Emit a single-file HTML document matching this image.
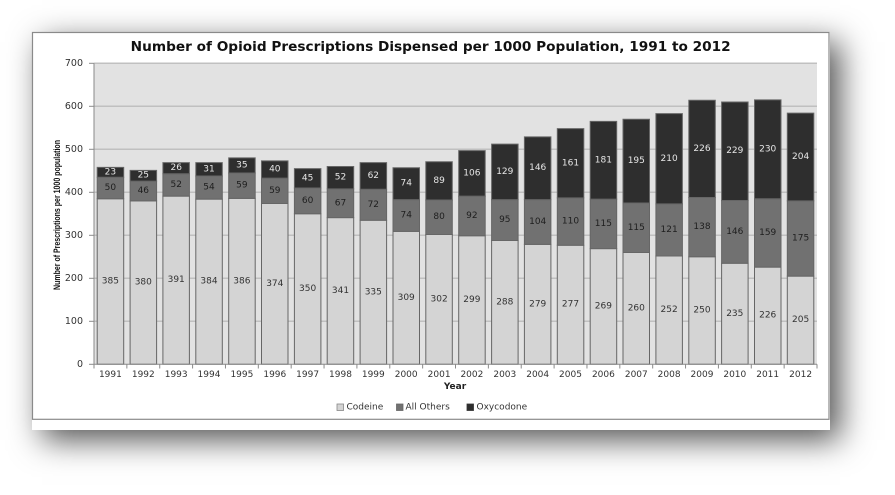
<!DOCTYPE html>
<html>
<head>
<meta charset="utf-8">
<style>
  html,body{margin:0;padding:0;background:#fff;}
  body{width:895px;height:495px;position:relative;overflow:hidden;}
  #frame{position:absolute;left:32px;top:32px;width:798px;height:398px;background:#fff;
    box-shadow:10px 10px 30px 0px rgba(0,0,0,0.68);}
  svg{position:absolute;left:0;top:0;}
  text{font-family:"DejaVu Sans","Liberation Sans",sans-serif;}
</style>
</head>
<body>
<div id="frame"></div>
<svg width="895" height="495" viewBox="0 0 895 495" xmlns="http://www.w3.org/2000/svg">
  <rect x="32.5" y="32.5" width="796.5" height="386.8" fill="none" stroke="#8a8a8a" stroke-width="1.2"/>

  <text x="430.7" y="51" text-anchor="middle" font-size="13" font-weight="bold" fill="#111" textLength="600" lengthAdjust="spacingAndGlyphs">Number of Opioid Prescriptions Dispensed per 1000 Population, 1991 to 2012</text>

  <rect x="94" y="63.3" width="723" height="301" fill="#e2e2e2"/>
  <g stroke="#c0c0c0" stroke-width="1.5">
    <line x1="94" y1="63.3" x2="817" y2="63.3"/>
    <line x1="94" y1="106.3" x2="817" y2="106.3"/>
    <line x1="94" y1="149.3" x2="817" y2="149.3"/>
    <line x1="94" y1="192.3" x2="817" y2="192.3"/>
    <line x1="94" y1="235.3" x2="817" y2="235.3"/>
    <line x1="94" y1="278.3" x2="817" y2="278.3"/>
    <line x1="94" y1="321.3" x2="817" y2="321.3"/>
  </g>

  <g transform="translate(0,364.3) scale(1,-0.43)" stroke="#666" stroke-width="1">
    <g fill="#d4d4d4">
      <rect vector-effect="non-scaling-stroke" x="97.2" y="0" width="26.5" height="385"/>
      <rect vector-effect="non-scaling-stroke" x="130.1" y="0" width="26.5" height="380"/>
      <rect vector-effect="non-scaling-stroke" x="162.9" y="0" width="26.5" height="391"/>
      <rect vector-effect="non-scaling-stroke" x="195.8" y="0" width="26.5" height="384"/>
      <rect vector-effect="non-scaling-stroke" x="228.7" y="0" width="26.5" height="386"/>
      <rect vector-effect="non-scaling-stroke" x="261.5" y="0" width="26.5" height="374"/>
      <rect vector-effect="non-scaling-stroke" x="294.4" y="0" width="26.5" height="350"/>
      <rect vector-effect="non-scaling-stroke" x="327.2" y="0" width="26.5" height="341"/>
      <rect vector-effect="non-scaling-stroke" x="360.1" y="0" width="26.5" height="335"/>
      <rect vector-effect="non-scaling-stroke" x="393.0" y="0" width="26.5" height="309"/>
      <rect vector-effect="non-scaling-stroke" x="425.8" y="0" width="26.5" height="302"/>
      <rect vector-effect="non-scaling-stroke" x="458.7" y="0" width="26.5" height="299"/>
      <rect vector-effect="non-scaling-stroke" x="491.6" y="0" width="26.5" height="288"/>
      <rect vector-effect="non-scaling-stroke" x="524.4" y="0" width="26.5" height="279"/>
      <rect vector-effect="non-scaling-stroke" x="557.3" y="0" width="26.5" height="277"/>
      <rect vector-effect="non-scaling-stroke" x="590.2" y="0" width="26.5" height="269"/>
      <rect vector-effect="non-scaling-stroke" x="623.0" y="0" width="26.5" height="260"/>
      <rect vector-effect="non-scaling-stroke" x="655.9" y="0" width="26.5" height="252"/>
      <rect vector-effect="non-scaling-stroke" x="688.8" y="0" width="26.5" height="250"/>
      <rect vector-effect="non-scaling-stroke" x="721.6" y="0" width="26.5" height="235"/>
      <rect vector-effect="non-scaling-stroke" x="754.5" y="0" width="26.5" height="226"/>
      <rect vector-effect="non-scaling-stroke" x="787.3" y="0" width="26.5" height="205"/>
    </g>
    <g fill="#717171">
      <rect vector-effect="non-scaling-stroke" x="97.2" y="385" width="26.5" height="50"/>
      <rect vector-effect="non-scaling-stroke" x="130.1" y="380" width="26.5" height="46"/>
      <rect vector-effect="non-scaling-stroke" x="162.9" y="391" width="26.5" height="52"/>
      <rect vector-effect="non-scaling-stroke" x="195.8" y="384" width="26.5" height="54"/>
      <rect vector-effect="non-scaling-stroke" x="228.7" y="386" width="26.5" height="59"/>
      <rect vector-effect="non-scaling-stroke" x="261.5" y="374" width="26.5" height="59"/>
      <rect vector-effect="non-scaling-stroke" x="294.4" y="350" width="26.5" height="60"/>
      <rect vector-effect="non-scaling-stroke" x="327.2" y="341" width="26.5" height="67"/>
      <rect vector-effect="non-scaling-stroke" x="360.1" y="335" width="26.5" height="72"/>
      <rect vector-effect="non-scaling-stroke" x="393.0" y="309" width="26.5" height="74"/>
      <rect vector-effect="non-scaling-stroke" x="425.8" y="302" width="26.5" height="80"/>
      <rect vector-effect="non-scaling-stroke" x="458.7" y="299" width="26.5" height="92"/>
      <rect vector-effect="non-scaling-stroke" x="491.6" y="288" width="26.5" height="95"/>
      <rect vector-effect="non-scaling-stroke" x="524.4" y="279" width="26.5" height="104"/>
      <rect vector-effect="non-scaling-stroke" x="557.3" y="277" width="26.5" height="110"/>
      <rect vector-effect="non-scaling-stroke" x="590.2" y="269" width="26.5" height="115"/>
      <rect vector-effect="non-scaling-stroke" x="623.0" y="260" width="26.5" height="115"/>
      <rect vector-effect="non-scaling-stroke" x="655.9" y="252" width="26.5" height="121"/>
      <rect vector-effect="non-scaling-stroke" x="688.8" y="250" width="26.5" height="138"/>
      <rect vector-effect="non-scaling-stroke" x="721.6" y="235" width="26.5" height="146"/>
      <rect vector-effect="non-scaling-stroke" x="754.5" y="226" width="26.5" height="159"/>
      <rect vector-effect="non-scaling-stroke" x="787.3" y="205" width="26.5" height="175"/>
    </g>
    <g fill="#2e2e2e">
      <rect vector-effect="non-scaling-stroke" x="97.2" y="435" width="26.5" height="23"/>
      <rect vector-effect="non-scaling-stroke" x="130.1" y="426" width="26.5" height="25"/>
      <rect vector-effect="non-scaling-stroke" x="162.9" y="443" width="26.5" height="26"/>
      <rect vector-effect="non-scaling-stroke" x="195.8" y="438" width="26.5" height="31"/>
      <rect vector-effect="non-scaling-stroke" x="228.7" y="445" width="26.5" height="35"/>
      <rect vector-effect="non-scaling-stroke" x="261.5" y="433" width="26.5" height="40"/>
      <rect vector-effect="non-scaling-stroke" x="294.4" y="410" width="26.5" height="45"/>
      <rect vector-effect="non-scaling-stroke" x="327.2" y="408" width="26.5" height="52"/>
      <rect vector-effect="non-scaling-stroke" x="360.1" y="407" width="26.5" height="62"/>
      <rect vector-effect="non-scaling-stroke" x="393.0" y="383" width="26.5" height="74"/>
      <rect vector-effect="non-scaling-stroke" x="425.8" y="382" width="26.5" height="89"/>
      <rect vector-effect="non-scaling-stroke" x="458.7" y="391" width="26.5" height="106"/>
      <rect vector-effect="non-scaling-stroke" x="491.6" y="383" width="26.5" height="129"/>
      <rect vector-effect="non-scaling-stroke" x="524.4" y="383" width="26.5" height="146"/>
      <rect vector-effect="non-scaling-stroke" x="557.3" y="387" width="26.5" height="161"/>
      <rect vector-effect="non-scaling-stroke" x="590.2" y="384" width="26.5" height="181"/>
      <rect vector-effect="non-scaling-stroke" x="623.0" y="375" width="26.5" height="195"/>
      <rect vector-effect="non-scaling-stroke" x="655.9" y="373" width="26.5" height="210"/>
      <rect vector-effect="non-scaling-stroke" x="688.8" y="388" width="26.5" height="226"/>
      <rect vector-effect="non-scaling-stroke" x="721.6" y="381" width="26.5" height="229"/>
      <rect vector-effect="non-scaling-stroke" x="754.5" y="385" width="26.5" height="230"/>
      <rect vector-effect="non-scaling-stroke" x="787.3" y="380" width="26.5" height="204"/>
    </g>
  </g>

  <g stroke="#8a8a8a" stroke-width="1">
    <line x1="94" y1="63.3" x2="94" y2="364.3"/>
    <line x1="94" y1="364.3" x2="817" y2="364.3"/>
    <line x1="89" y1="63.3" x2="94" y2="63.3"/>
    <line x1="89" y1="106.3" x2="94" y2="106.3"/>
    <line x1="89" y1="149.3" x2="94" y2="149.3"/>
    <line x1="89" y1="192.3" x2="94" y2="192.3"/>
    <line x1="89" y1="235.3" x2="94" y2="235.3"/>
    <line x1="89" y1="278.3" x2="94" y2="278.3"/>
    <line x1="89" y1="321.3" x2="94" y2="321.3"/>
    <line x1="89" y1="364.3" x2="94" y2="364.3"/>
    <line x1="94" y1="364.3" x2="94" y2="368.5"/>
    <line x1="126.86" y1="364.3" x2="126.86" y2="368.5"/>
    <line x1="159.73" y1="364.3" x2="159.73" y2="368.5"/>
    <line x1="192.59" y1="364.3" x2="192.59" y2="368.5"/>
    <line x1="225.46" y1="364.3" x2="225.46" y2="368.5"/>
    <line x1="258.32" y1="364.3" x2="258.32" y2="368.5"/>
    <line x1="291.18" y1="364.3" x2="291.18" y2="368.5"/>
    <line x1="324.05" y1="364.3" x2="324.05" y2="368.5"/>
    <line x1="356.91" y1="364.3" x2="356.91" y2="368.5"/>
    <line x1="389.78" y1="364.3" x2="389.78" y2="368.5"/>
    <line x1="422.64" y1="364.3" x2="422.64" y2="368.5"/>
    <line x1="455.5" y1="364.3" x2="455.5" y2="368.5"/>
    <line x1="488.37" y1="364.3" x2="488.37" y2="368.5"/>
    <line x1="521.23" y1="364.3" x2="521.23" y2="368.5"/>
    <line x1="554.1" y1="364.3" x2="554.1" y2="368.5"/>
    <line x1="586.96" y1="364.3" x2="586.96" y2="368.5"/>
    <line x1="619.82" y1="364.3" x2="619.82" y2="368.5"/>
    <line x1="652.69" y1="364.3" x2="652.69" y2="368.5"/>
    <line x1="685.55" y1="364.3" x2="685.55" y2="368.5"/>
    <line x1="718.42" y1="364.3" x2="718.42" y2="368.5"/>
    <line x1="751.28" y1="364.3" x2="751.28" y2="368.5"/>
    <line x1="784.14" y1="364.3" x2="784.14" y2="368.5"/>
    <line x1="817" y1="364.3" x2="817" y2="368.5"/>
  </g>

  <g font-size="9.5" fill="#333" text-anchor="end" dominant-baseline="central">
    <text x="83" y="63.3">700</text>
    <text x="83" y="106.3">600</text>
    <text x="83" y="149.3">500</text>
    <text x="83" y="192.3">400</text>
    <text x="83" y="235.3">300</text>
    <text x="83" y="278.3">200</text>
    <text x="83" y="321.3">100</text>
    <text x="83" y="364.3">0</text>
  </g>

  <text transform="translate(60,215) rotate(-90)" text-anchor="middle" font-size="9" font-weight="bold" fill="#111" textLength="150" lengthAdjust="spacingAndGlyphs" style="font-family:'Liberation Sans Narrow','Liberation Sans',sans-serif">Number of Prescriptions per 1000 population</text>

  <g font-size="9" fill="#333" text-anchor="middle" dominant-baseline="central">
    <text x="110.4" y="375">1991</text>
    <text x="143.3" y="375">1992</text>
    <text x="176.2" y="375">1993</text>
    <text x="209.0" y="375">1994</text>
    <text x="241.9" y="375">1995</text>
    <text x="274.8" y="375">1996</text>
    <text x="307.6" y="375">1997</text>
    <text x="340.5" y="375">1998</text>
    <text x="373.3" y="375">1999</text>
    <text x="406.2" y="375">2000</text>
    <text x="439.1" y="375">2001</text>
    <text x="471.9" y="375">2002</text>
    <text x="504.8" y="375">2003</text>
    <text x="537.7" y="375">2004</text>
    <text x="570.5" y="375">2005</text>
    <text x="603.4" y="375">2006</text>
    <text x="636.3" y="375">2007</text>
    <text x="669.1" y="375">2008</text>
    <text x="702.0" y="375">2009</text>
    <text x="734.8" y="375">2010</text>
    <text x="767.7" y="375">2011</text>
    <text x="800.6" y="375">2012</text>
  </g>
  <text x="455" y="387" font-size="9" font-weight="bold" fill="#222" text-anchor="middle" dominant-baseline="central">Year</text>

  <g font-size="9" fill="#333" text-anchor="middle" dominant-baseline="central">
    <text x="110.4" y="281.5">385</text>
    <text x="143.3" y="282.6">380</text>
    <text x="176.2" y="280.2">391</text>
    <text x="209.0" y="281.7">384</text>
    <text x="241.9" y="281.3">386</text>
    <text x="274.8" y="283.9">374</text>
    <text x="307.6" y="289.1">350</text>
    <text x="340.5" y="291.0">341</text>
    <text x="373.3" y="292.3">335</text>
    <text x="406.2" y="297.9">309</text>
    <text x="439.1" y="299.4">302</text>
    <text x="471.9" y="300.0">299</text>
    <text x="504.8" y="302.4">288</text>
    <text x="537.7" y="304.3">279</text>
    <text x="570.5" y="304.7">277</text>
    <text x="603.4" y="306.5">269</text>
    <text x="636.3" y="308.4">260</text>
    <text x="669.1" y="310.1">252</text>
    <text x="702.0" y="310.5">250</text>
    <text x="734.8" y="313.8">235</text>
    <text x="767.7" y="315.7">226</text>
    <text x="800.6" y="320.2">205</text>
  </g>
  <g font-size="9" fill="#1e1e1e" text-anchor="middle" dominant-baseline="central">
    <text x="110.4" y="188.0">50</text>
    <text x="143.3" y="191.0">46</text>
    <text x="176.2" y="185.0">52</text>
    <text x="209.0" y="187.6">54</text>
    <text x="241.9" y="185.6">59</text>
    <text x="274.8" y="190.8">59</text>
    <text x="307.6" y="200.9">60</text>
    <text x="340.5" y="203.3">67</text>
    <text x="373.3" y="204.8">72</text>
    <text x="406.2" y="215.5">74</text>
    <text x="439.1" y="217.2">80</text>
    <text x="471.9" y="215.9">92</text>
    <text x="504.8" y="220.0">95</text>
    <text x="537.7" y="222.0">104</text>
    <text x="570.5" y="221.5">110</text>
    <text x="603.4" y="223.9">115</text>
    <text x="636.3" y="227.8">115</text>
    <text x="669.1" y="229.9">121</text>
    <text x="702.0" y="227.1">138</text>
    <text x="734.8" y="231.9">146</text>
    <text x="767.7" y="232.9">159</text>
    <text x="800.6" y="238.5">175</text>
  </g>
  <g font-size="9" fill="#e6e6e6" text-anchor="middle" dominant-baseline="central">
    <text x="110.4" y="172.3">23</text>
    <text x="143.3" y="175.7">25</text>
    <text x="176.2" y="168.2">26</text>
    <text x="209.0" y="169.3">31</text>
    <text x="241.9" y="165.4">35</text>
    <text x="274.8" y="169.5">40</text>
    <text x="307.6" y="178.3">45</text>
    <text x="340.5" y="177.7">52</text>
    <text x="373.3" y="176.0">62</text>
    <text x="406.2" y="183.7">74</text>
    <text x="439.1" y="180.9">89</text>
    <text x="471.9" y="173.4">106</text>
    <text x="504.8" y="171.9">129</text>
    <text x="537.7" y="168.2">146</text>
    <text x="570.5" y="163.3">161</text>
    <text x="603.4" y="160.3">181</text>
    <text x="636.3" y="161.1">195</text>
    <text x="669.1" y="158.8">210</text>
    <text x="702.0" y="148.9">226</text>
    <text x="734.8" y="151.2">229</text>
    <text x="767.7" y="149.3">230</text>
    <text x="800.6" y="157.0">204</text>
  </g>

  <rect x="337" y="404" width="6.5" height="6.5" fill="#d4d4d4" stroke="#888" stroke-width="0.8"/>
  <text x="346.5" y="407.3" font-size="9" fill="#333" dominant-baseline="central">Codeine</text>
  <rect x="396.5" y="404" width="6.5" height="6.5" fill="#717171" stroke="#666" stroke-width="0.8"/>
  <text x="405.5" y="407.3" font-size="9" fill="#333" dominant-baseline="central">All Others</text>
  <rect x="467" y="404" width="6.5" height="6.5" fill="#2e2e2e" stroke="#333" stroke-width="0.8"/>
  <text x="476.5" y="407.3" font-size="9" fill="#333" dominant-baseline="central">Oxycodone</text>
</svg>
</body>
</html>
